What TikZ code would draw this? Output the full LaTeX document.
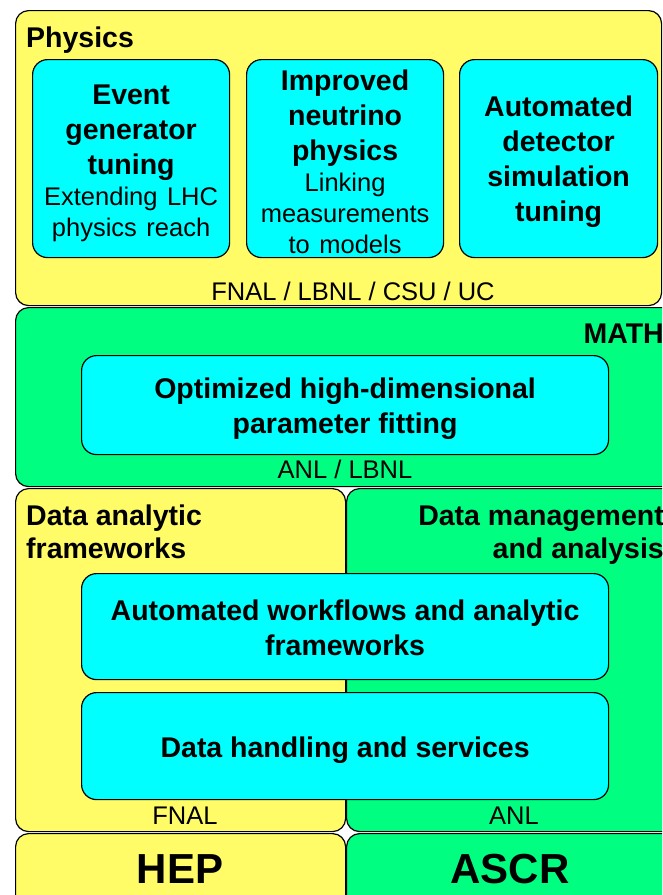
\documentclass[tikz,border=0pt]{standalone}
\usepackage{fontspec}
\setmainfont{Liberation Sans}
\usetikzlibrary{positioning}

\definecolor{hepyellow}{RGB}{255,252,104}
\definecolor{ascrgreen}{RGB}{0,255,128}
\definecolor{taskcyan}{RGB}{0,255,255}

\newcommand\headfont{\fontsize{28.5}{35}\selectfont\bfseries}
\newcommand\notefont{\fontsize{25.5}{31}\selectfont\mdseries}
\newcommand\unitfont{\fontsize{42}{50}\selectfont\bfseries}

\begin{document}
\begin{tikzpicture}[x=1pt,y=-1pt,
  panel/.style={draw=black,line width=1.2pt,rounded corners=13pt,fill=#1,anchor=north west,inner sep=0pt},
  task/.style={draw=black,line width=1.2pt,rounded corners=15pt,fill=taskcyan,anchor=north west,inner sep=0pt},
  tasktext/.style={inner sep=0pt,align=center,font=\headfont,yshift=-4pt},
  wh/.style 2 args={minimum width=#1pt,minimum height=#2pt},
  tag/.style={anchor=base,inner sep=0pt,font=\notefont}]
  \useasboundingbox (0,0) rectangle (662,895);
  \clip (0,0) rectangle (662,895);

  % outer areas
  \node[panel=hepyellow,wh={646}{295}] (physics) at (15,10) {};
  \node[panel=ascrgreen,wh={665}{179}] (math) at (15,307) {};
  \node[panel=hepyellow,wh={330}{343}] (dataana) at (15,488) {};
  \node[panel=ascrgreen,wh={334}{343}] (datamgt) at (346,488) {};
  \node[panel=hepyellow,wh={330}{80}] (hep) at (15,833) {};
  \node[panel=ascrgreen,wh={334}{80}] (ascr) at (346,833) {};

  % area titles
  \node[anchor=base west,inner sep=0pt,font=\headfont] (physicstitle) at (26,47) {Physics};
  \node[anchor=base east,inner sep=0pt,font=\headfont] (mathtitle) at (664,343) {MATH};
  \node[anchor=base west,inner sep=0pt,font=\headfont,align=left] (dataanatitle) at (26,558) {Data analytic\\[-2pt] frameworks};
  \node[anchor=base east,inner sep=0pt,font=\headfont,align=right] (datamgttitle) at (664,558) {Data management\\[-2pt] and analysis};

  % tasks
  \node[task,wh={197}{198}] (evgen) at (32,59) {};
  \node[task,wh={197}{198}] (neutrino) at (246,59) {};
  \node[task,wh={198}{198}] (detsim) at (459,59) {};
  \node[task,wh={527}{99}] (fitting) at (81,355) {};
  \node[task,wh={527}{106}] (workflows) at (81,573) {};
  \node[task,wh={527}{107}] (handling) at (81,692) {};

  \node[tasktext,text width=194pt,yshift=-1pt] (evgentext) at (evgen.center)
    {Event\\ generator\\ tuning\par{\notefont Extending LHC\\ physics reach\par}};
  \node[tasktext,text width=194pt,yshift=1pt] (neutrinotext) at (neutrino.center)
    {Improved\\ neutrino\\ physics\par{\notefont Linking\\ measurements\\ to models\par}};
  \node[tasktext,text width=194pt,yshift=1pt] (detsimtext) at (detsim.center)
    {Automated\\ detector\\ simulation\\ tuning};
  \node[tasktext] (fittingtext) at (fitting.center)
    {Optimized high-dimensional\\ parameter fitting};
  \node[tasktext,yshift=3pt] (workflowstext) at (workflows.center)
    {Automated workflows and analytic\\ frameworks};
  \node[tasktext] (handlingtext) at (handling.center)
    {Data handling and services};

  % institutions
  \node[tag] (physicslabs) at (353,300) {FNAL / LBNL / CSU / UC};
  \node[tag] (mathlabs) at (345,478) {ANL / LBNL};
  \node[tag] (fnal) at (185,824) {FNAL};
  \node[tag] (anl) at (514,824) {ANL};

  % offices
  \node[anchor=base,inner sep=0pt,font=\unitfont] (heplabel) at (180,883) {HEP};
  \node[anchor=base,inner sep=0pt,font=\unitfont] (ascrlabel) at (510,883) {ASCR};
\end{tikzpicture}
\end{document}
